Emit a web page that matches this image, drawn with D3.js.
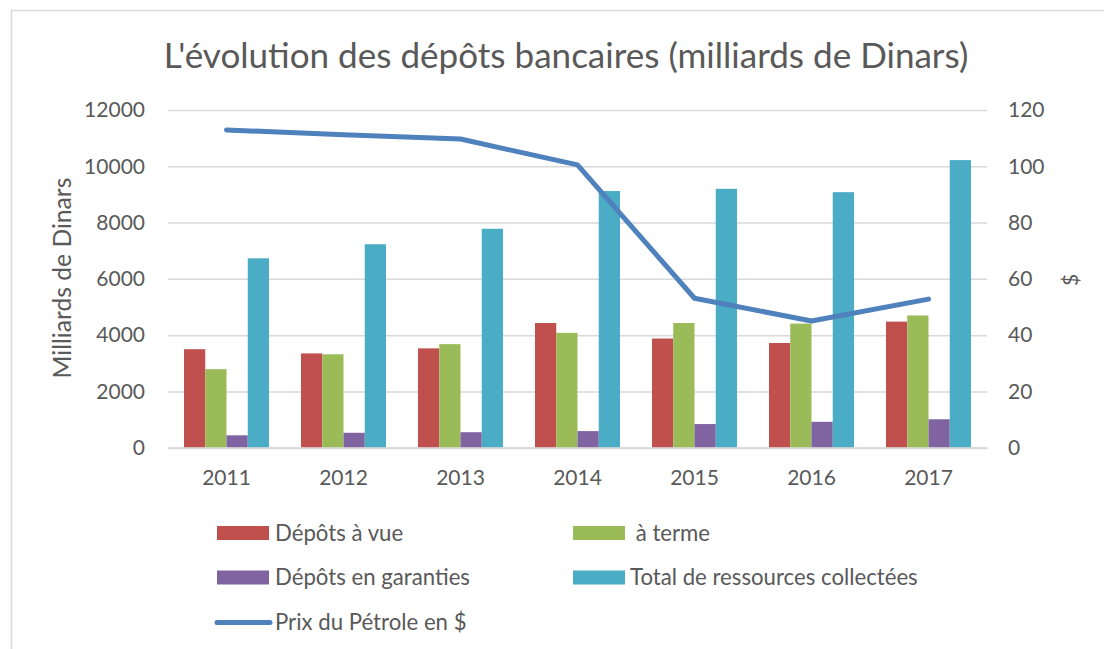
<!DOCTYPE html>
<html>
<head>
<meta charset="utf-8">
<script src="https://cdn.jsdelivr.net/npm/d3@7"></script>
<style>
  html, body { margin: 0; padding: 0; background: #fff; }
  text { font-family: Lato, "Open Sans", sans-serif; fill: #595959; }
</style>
</head>
<body>
<svg id="chart" width="1104" height="649"></svg>
<script>
// ---- data ----
const years = ["2011", "2012", "2013", "2014", "2015", "2016", "2017"];
const depotsVue = [3500, 3350, 3530, 4430, 3880, 3720, 4480];
const aTerme = [2790, 3320, 3680, 4080, 4430, 4410, 4700];
const garanties = [440, 530, 550, 590, 840, 920, 1010];
const totalRessources = [6730, 7230, 7780, 9120, 9200, 9080, 10220];
const prixPetrole = [112.9, 111.2, 109.7, 100.5, 53.1, 45.0, 52.8];
const leftTicks = [0, 2000, 4000, 6000, 8000, 10000, 12000];
const rightTicks = [0, 20, 40, 60, 80, 100, 120];
const seriesNames = ["Dépôts à vue", " à terme", "Dépôts en garanties", "Total de ressources collectées"];
const lineName = "Prix du Pétrole en $";
const titleText = "L'évolution des dépôts bancaires (milliards de Dinars)";
const leftTitle = "Milliards de Dinars";
const rightTitle = "$";

const barSeries = [depotsVue, aTerme, garanties, totalRessources];
const colors = ["#c0504d", "#9bbb59", "#8064a2", "#4bacc6"];
const lineColor = "#4f81bd";

// ---- layout ----
const svg = d3.select("#chart");
svg.append("rect").attr("width", 1104).attr("height", 649).attr("fill", "#fff");
svg.append("rect").attr("x", 11.5).attr("y", 10.5).attr("width", 1200).attr("height", 1000)
  .attr("fill", "none").attr("stroke", "#d9d9d9").attr("stroke-width", 1.5);

const plotL = 168, plotR = 987, plotT = 110, plotB = 447.7;

const x = d3.scaleBand().domain(years).range([plotL, plotR])
  .paddingInner(0.2735).paddingOuter(0.1368);
const xs = d3.scaleBand().domain(d3.range(4)).range([0, x.bandwidth()]);
const yL = d3.scaleLinear().domain([0, 12000]).range([plotB, plotT]);
const yR = d3.scaleLinear().domain([0, 120]).range([plotB, plotT]);

function fit(sel, target) {
  const w = sel.node().getComputedTextLength();
  const fs = parseFloat(sel.attr("font-size"));
  sel.attr("font-size", fs * target / w);
}

// gridlines + left axis
const leftAxis = d3.axisLeft(yL).tickValues(leftTicks).tickFormat(d3.format("d"))
  .tickSize(-(plotR - plotL)).tickPadding(23);
const gL = svg.append("g").attr("transform", `translate(${plotL},0)`).call(leftAxis);
gL.select(".domain").remove();
gL.selectAll(".tick line").attr("stroke", "#d9d9d9").attr("stroke-width", 1.5);
gL.selectAll(".tick text").attr("font-size", 21).style("font-family", "Lato").attr("fill", "#595959");

const rightAxis = d3.axisRight(yR).tickValues(rightTicks).tickFormat(d3.format("d"))
  .tickSize(0).tickPadding(21);
const gR = svg.append("g").attr("transform", `translate(${plotR},0)`).call(rightAxis);
gR.select(".domain").remove();
gR.selectAll(".tick text").attr("font-size", 21).style("font-family", "Lato").attr("fill", "#595959");

// bars
const groups = svg.append("g").selectAll("g").data(years).join("g")
  .attr("transform", d => `translate(${x(d)},0)`);
groups.selectAll("rect").data((d, i) => barSeries.map((s, k) => ({ k, v: s[i] }))).join("rect")
  .attr("x", d => xs(d.k))
  .attr("width", xs.bandwidth())
  .attr("y", d => yL(d.v))
  .attr("height", d => yL(0) - yL(d.v))
  .attr("fill", d => colors[d.k]);

// x axis
const bottomAxis = d3.axisBottom(x).tickSize(0).tickPadding(22);
const gB = svg.append("g").attr("transform", `translate(0,${plotB})`).call(bottomAxis);
gB.select(".domain").attr("stroke", "#d9d9d9").attr("stroke-width", 2);
gB.selectAll(".tick text").attr("font-size", 21).style("font-family", "Lato").attr("fill", "#595959");

// line
const line = d3.line().x((d, i) => x(years[i]) + x.bandwidth() / 2).y(d => yR(d));
svg.append("path").datum(prixPetrole).attr("d", line)
  .attr("fill", "none").attr("stroke", lineColor).attr("stroke-width", 5)
  .attr("stroke-linejoin", "round").attr("stroke-linecap", "round");

// title
const title = svg.append("text").attr("x", 566).attr("y", 68).attr("text-anchor", "middle")
  .attr("font-size", 32).text(titleText);
fit(title, 805);

// axis titles
const lt = svg.append("text").attr("transform", "translate(71,278) rotate(-90)")
  .attr("text-anchor", "middle").attr("font-size", 22).text(leftTitle);
fit(lt, 201);
svg.append("text").attr("transform", "translate(1078,280) rotate(-90)")
  .attr("text-anchor", "middle").attr("font-size", 21).text(rightTitle);

// legend
const legendPos = [
  { sx: 217, tx: 275, y: 533 },
  { sx: 573, tx: 630, y: 533 },
  { sx: 217, tx: 275, y: 577.5 },
  { sx: 573, tx: 630, y: 577.5 }
];
const leg = svg.append("g");
seriesNames.forEach((name, i) => {
  const p = legendPos[i];
  leg.append("rect").attr("x", p.sx).attr("y", p.y - 7).attr("width", 52).attr("height", 14).attr("fill", colors[i]);
  leg.append("text").attr("x", p.tx).attr("y", p.y).attr("dy", "0.36em")
    .attr("font-size", 22.2).style("white-space", "pre").text(name);
});
leg.append("line").attr("x1", 217).attr("x2", 270).attr("y1", 622.5).attr("y2", 622.5)
  .attr("stroke", lineColor).attr("stroke-width", 5).attr("stroke-linecap", "round");
leg.append("text").attr("x", 275).attr("y", 622.5).attr("dy", "0.36em")
  .attr("font-size", 22.2).text(lineName);
</script>
</body>
</html>
